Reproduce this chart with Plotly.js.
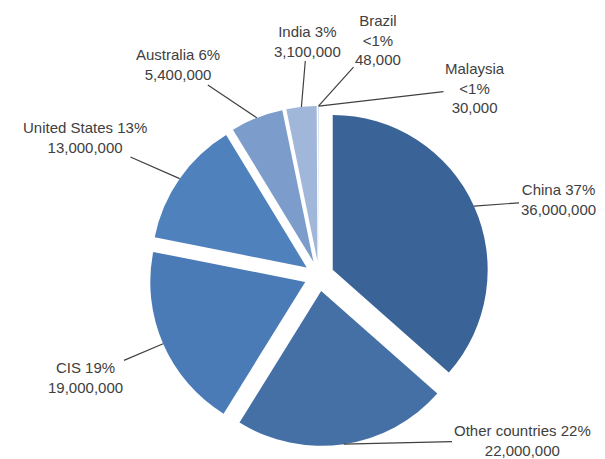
<!DOCTYPE html>
<html>
<head>
<meta charset="utf-8">
<script src="https://cdn.plot.ly/plotly-3.0.1.min.js"></script>
<style>html,body{margin:0;padding:0;background:#fff;}#chart{width:605px;height:459px;}</style>
</head>
<body>
<div id="chart"></div>
<script>
var countries = ["China", "Other countries", "CIS", "United States", "Australia", "India", "Brazil", "Malaysia"];
var production = [36000000, 22000000, 19000000, 13000000, 5400000, 3100000, 48000, 30000];
var shares = ["37%", "22%", "19%", "13%", "6%", "3%", "<1%", "<1%"];
var colors = ["#3A6398", "#4470A6", "#4A7BB7", "#4F81BD", "#7C9DCB", "#A1B7DA", "#B9C9E3", "#C5D3E8"];

// label text centres (pixels from top-left), layout only
var labelCentres = [[558, 200], [522, 440], [85, 377], [85, 137], [178, 65], [307, 41], [378, 40], [475, 88]];

var labelText = countries.map(function (c, i) {
  var v = production[i].toLocaleString("en-US");
  if (shares[i].charAt(0) === "<") return c + "<br>" + shares[i].replace("<", "&lt;") + "<br>" + v;
  return c + " " + shares[i] + "<br>" + v;
});

var W = 605, H = 459;
var PULL = 0.097;
var font = {family: "Liberation Sans, Arial, sans-serif", size: 15, color: "#404040"};

var trace = {
  type: "pie",
  labels: countries,
  values: production,
  textinfo: "none",
  sort: false,
  direction: "clockwise",
  rotation: 0,
  pull: PULL,
  marker: {colors: colors, line: {width: 0}},
  domain: {x: [0.2463, 0.8083], y: [0.0283, 0.769]},
  hoverinfo: "label+value"
};

var layout = {
  width: W, height: H,
  margin: {l: 0, r: 0, t: 0, b: 0},
  showlegend: false,
  paper_bgcolor: "#ffffff"
};

var gd = document.getElementById("chart");
Plotly.newPlot(gd, [trace], layout, {displayModeBar: false, staticPlot: true}).then(function () {
  var cd = gd.calcdata[0];
  var cd0 = cd[0];
  var anns = cd.map(function (pt, i) {
    var tipX = cd0.cx + (1 + PULL) * pt.pxmid[0];
    var tipY = cd0.cy + (1 + PULL) * pt.pxmid[1];
    return {
      xref: "paper", yref: "paper",
      x: tipX / W, y: 1 - tipY / H,
      ax: labelCentres[i][0] - tipX,
      ay: labelCentres[i][1] - tipY,
      text: labelText[i],
      showarrow: true, arrowhead: 0, arrowwidth: 1.2, arrowcolor: "#404040",
      standoff: 0, align: "center", font: font
    };
  });
  return Plotly.relayout(gd, {annotations: anns});
});
</script>
</body>
</html>
